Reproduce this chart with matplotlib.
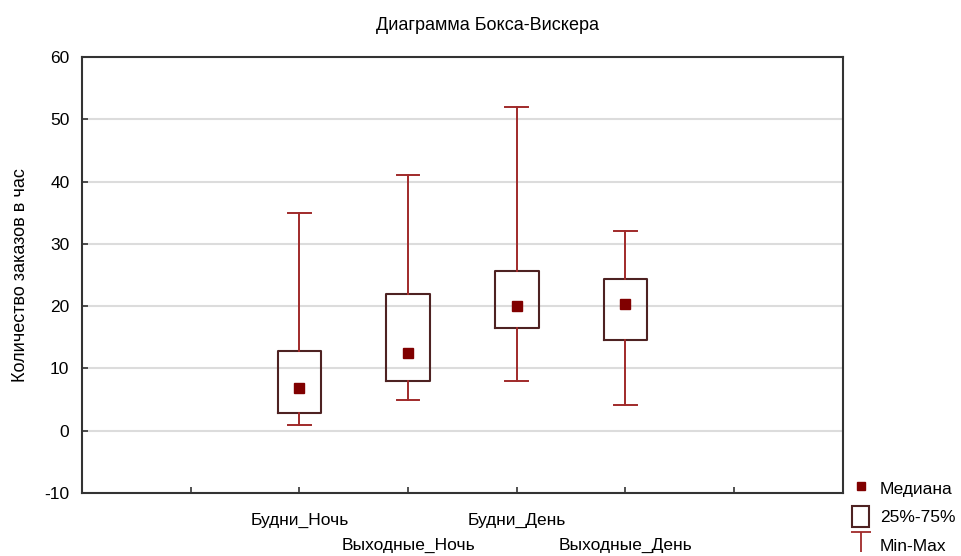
import matplotlib.pyplot as plt
from matplotlib.lines import Line2D
from matplotlib.patches import Patch
from matplotlib.path import Path

plt.rcParams['font.family'] = ['Liberation Sans', 'DejaVu Sans']
plt.rcParams['axes.unicode_minus'] = False

categories = ['Будни_Ночь', 'Выходные_Ночь', 'Будни_День', 'Выходные_День']
positions = [2, 3, 4, 5]
medians = [6.9, 12.5, 20.1, 20.4]
q1 = [2.9, 8.0, 16.5, 14.5]
q3 = [12.8, 21.9, 25.6, 24.4]
mins = [1.0, 4.9, 8.0, 4.1]
maxs = [35.0, 41.0, 52.0, 32.0]

box_col = "#4e2222"
whisk_col = "#a02a2a"
med_col = "#800000"


def main():
    fig = plt.figure(figsize=(9.62, 5.56), dpi=100)
    ax = fig.add_axes([0.0852, 0.1133, 0.791, 0.784])

    stats = []
    for i in range(len(categories)):
        stats.append({
            "med": medians[i], "q1": q1[i], "q3": q3[i],
            "whislo": mins[i], "whishi": maxs[i], "fliers": [],
        })

    ax.bxp(stats, positions=positions, widths=0.4, showfliers=False,
           boxprops=dict(color=box_col, linewidth=1.5),
           whiskerprops=dict(color=whisk_col, linewidth=1.4),
           capprops=dict(color=whisk_col, linewidth=1.4),
           medianprops=dict(linewidth=0), capwidths=0.21)
    ax.plot(positions, medians, "s", color=med_col, markersize=6.5, zorder=5)

    ax.set_xlim(0, 7)
    ax.set_ylim(-10, 60)
    ax.set_yticks(range(-10, 61, 10))
    labels = ['', categories[0], '\n' + categories[1], categories[2], '\n' + categories[3], '']
    ax.set_xticks([1, 2, 3, 4, 5, 6], labels=labels)
    ax.tick_params(direction="in", length=4, width=1.2, labelsize=12.5, colors="#333333")
    ax.tick_params(axis="x", pad=14, labelcolor="black")
    ax.tick_params(axis="y", pad=9, labelcolor="black")
    for lab in ax.get_xticklabels():
        lab.set_linespacing(1.9)
    ax.yaxis.grid(True, color="#dcdcdc", linewidth=1.5)
    ax.set_axisbelow(True)
    for s in ax.spines.values():
        s.set_color("#333333")
        s.set_linewidth(1.5)

    ax.set_ylabel("Количество заказов в час", fontsize=13)
    ax.yaxis.set_label_coords(-0.07, 0.5)
    fig.text(488 / 962, 1 - 25 / 556, "Диаграмма Бокса-Вискера", ha="center", va="center", fontsize=13)

    t_marker = Path([(-1, 1), (1, 1), (0, 1), (0, -1)],
                    [Path.MOVETO, Path.LINETO, Path.MOVETO, Path.LINETO])
    handles = [
        Line2D([], [], marker="s", color=med_col, linestyle="none", markersize=6),
        Patch(facecolor="white", edgecolor=box_col, linewidth=1.5),
        Line2D([], [], marker=t_marker, color=whisk_col, linestyle="none", markersize=15, markeredgewidth=1.3),
    ]
    fig.legend(handles, ["Медиана", "25%-75%", "Min-Max"], loc="upper left",
               bbox_to_anchor=(852 / 962, 1 - 478 / 556), frameon=False, fontsize=12.5,
               handlelength=1.0, handleheight=1.5, handletextpad=0.6, labelspacing=0.4,
               borderaxespad=0, borderpad=0)

    fig.savefig("out.png", dpi=100)


if __name__ == '__main__':
    main()
